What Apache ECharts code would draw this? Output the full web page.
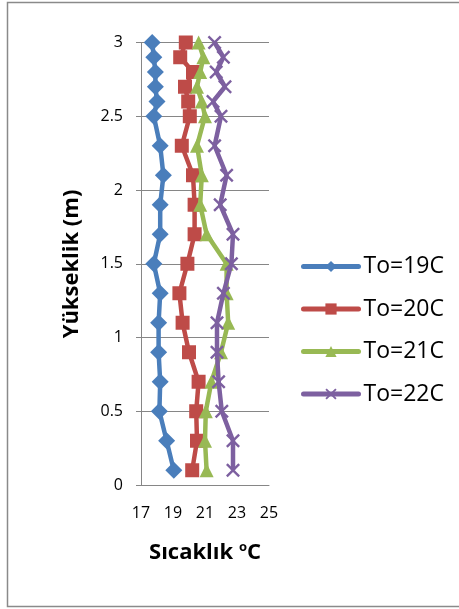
<!DOCTYPE html>
<html><head><meta charset="utf-8">
<script src="https://cdn.jsdelivr.net/npm/echarts@6/dist/echarts.min.js"></script>
<style>html,body{margin:0;padding:0;background:#fff}#c{width:459px;height:609px}</style>
</head><body><div id="c"></div>
<script>
const heights = [3.0, 2.9, 2.8, 2.7, 2.6, 2.5, 2.3, 2.1, 1.9, 1.7, 1.5, 1.3, 1.1, 0.9, 0.7, 0.5, 0.3, 0.1];
const seriesNames = ['To=19C', 'To=20C', 'To=21C', 'To=22C'];
const t19 = [17.7, 17.8, 17.9, 17.9, 18.0, 17.8, 18.2, 18.4, 18.2, 18.2, 17.8, 18.2, 18.1, 18.1, 18.2, 18.15, 18.6, 19.05];
const t20 = [19.8, 19.45, 20.25, 19.75, 19.95, 20.05, 19.55, 20.25, 20.35, 20.35, 19.9, 19.4, 19.6, 20.0, 20.6, 20.45, 20.5, 20.2];
const t21 = [20.6, 20.9, 20.7, 20.5, 20.8, 21.0, 20.5, 20.8, 20.7, 21.1, 22.35, 22.35, 22.45, 22.0, 21.4, 21.05, 21.0, 21.1];
const t22 = [21.6, 22.15, 21.7, 22.25, 21.5, 22.0, 21.6, 22.35, 21.95, 22.75, 22.65, 22.15, 21.75, 21.75, 21.85, 22.05, 22.75, 22.75];
const xTicks = {min: 17, max: 25, interval: 2};
const yTicks = {min: 0, max: 3, interval: 0.5};

const colors = ['#4A7EBB', '#BE4B48', '#98B954', '#7D60A0'];
const xPath = 'path://M0,1.2 L1.2,0 L5,3.8 L8.8,0 L10,1.2 L6.2,5 L10,8.8 L8.8,10 L5,6.2 L1.2,10 L0,8.8 L3.8,5 Z';
const symbols = ['diamond', 'rect', 'triangle', xPath];
const sizes = [17, 14, 14, 14];
const values = [t19, t20, t21, t22];

const chart = echarts.init(document.getElementById('c'));
const font = '"Open Sans", "Liberation Sans", sans-serif';
chart.setOption({
  animation: false,
  color: colors,
  grid: {left: 141, top: 42.5, width: 128, height: 442.5, containLabel: false},
  xAxis: {
    type: 'value', min: xTicks.min, max: xTicks.max, interval: xTicks.interval,
    axisLine: {show: true, lineStyle: {color: '#868686', width: 1}},
    axisTick: {show: false},
    splitLine: {show: false},
    axisLabel: {color: '#000', fontSize: 16, fontFamily: font, margin: 20},
    name: 'Sıcaklık {s|o}C', nameLocation: 'middle', nameGap: 56,
    nameTextStyle: {color: '#000', fontSize: 22, fontWeight: 'bold', fontFamily: font,
      rich: {s: {fontSize: 13, fontWeight: 'bold', verticalAlign: 'top', padding: [0,0,10,0], fontFamily: font}}}
  },
  yAxis: {
    type: 'value', min: yTicks.min, max: yTicks.max, interval: yTicks.interval,
    axisLine: {show: true, lineStyle: {color: '#868686', width: 1}},
    axisTick: {show: true, length: 5, lineStyle: {color: '#868686'}},
    splitLine: {show: true, lineStyle: {color: '#868686', width: 1}},
    axisLabel: {color: '#000', fontSize: 16, fontFamily: font, margin: 18}
  },
  legend: {
    orient: 'vertical', left: 296, top: 250, itemGap: 19.5, itemWidth: 55, itemHeight: 14,
    textStyle: {fontSize: 23, lineHeight: 23, color: '#000', fontFamily: font},
    lineStyle: {width: 5, cap: 'round'},
    data: seriesNames
  },
  graphic: [
    {type: 'rect', shape: {x: 7.5, y: 2.5, width: 470, height: 604}, style: {fill: 'none', stroke: '#8a8a8a', lineWidth: 1.5}, silent: true},
    {type: 'text', x: 72, y: 264, rotation: Math.PI / 2,
      style: {text: 'Yükseklik (m)', fontSize: 22, fontWeight: 'bold', fontFamily: font, fill: '#000', align: 'center', verticalAlign: 'middle'}}
  ],
  series: seriesNames.map((n, i) => ({
    name: n, type: 'line',
    data: values[i].map((v, k) => [v, heights[k]]),
    symbol: symbols[i], symbolSize: sizes[i], showSymbol: true,
    lineStyle: {width: 4.5, color: colors[i]},
    itemStyle: {color: colors[i]},
    z: 2 + i
  }))
});
</script></body></html>
